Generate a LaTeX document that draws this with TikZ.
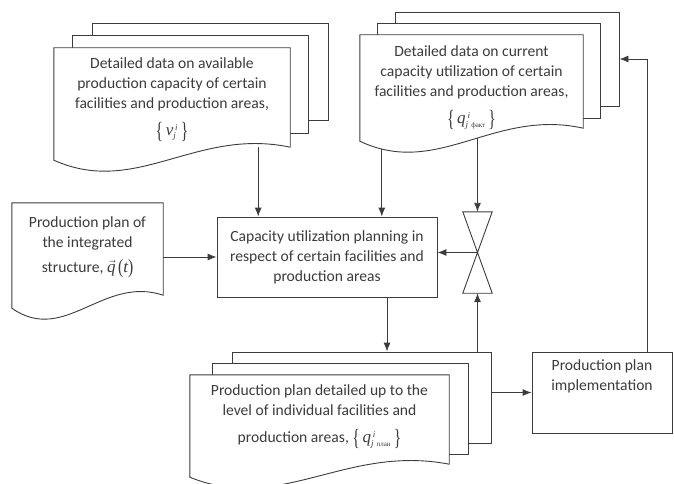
\documentclass[tikz,border=0pt]{standalone}
\usepackage{amsmath}
\usepackage{graphicx}
\usepackage{fontspec}
\setmainfont{Carlito}
\newfontfamily\cyrfont{Liberation Serif}
\usetikzlibrary{arrows.meta,positioning,backgrounds,calc}
\definecolor{ink}{HTML}{3C3C3C}
\newcommand\lbr{\raisebox{-3pt}{\scalebox{1}[1.5]{\cyrfont\{}}\,}
\newcommand\rbr{\,\raisebox{-3pt}{\scalebox{1}[1.5]{\cyrfont\}}}}
\newcommand\sym[1]{\mbox{\cyrfont\itshape\fontsize{17pt}{17pt}\selectfont #1}}
\newcommand\ssym[1]{\mbox{\cyrfont\itshape\fontsize{9pt}{9pt}\selectfont #1}}
\newcommand\tsym[1]{\mbox{\cyrfont\upshape\fontsize{7pt}{7pt}\selectfont #1}}
\tikzset{
  sheet/.style={draw=ink, fill=white, line width=0.9pt, inner sep=0pt},
  page/.style={inner sep=0pt},
  box/.style={draw=ink, fill=white, line width=0.9pt, align=center, inner sep=0pt, text=ink},
  txt/.style={align=center, inner sep=0pt, text=ink},
  link/.style={draw=ink, line width=0.9pt, ->},
}
\newcommand\docwave[1]{%
  \draw[sheet] let \p1=(#1.south east), \p2=(#1.south west), \n1={\x1-\x2} in
    (#1.north west) -- (#1.north east) -- (\p1)
    .. controls ({\x1-0.4*\n1},{\y1+20}) and ({\x2+0.35*\n1},{\y1-50}) .. ({\x2},{\y1-13}) -- cycle;}
\begin{document}
\begin{tikzpicture}[x=1pt, y=1pt, font=\fontsize{15.6pt}{20pt}\selectfont]
    \tikzset{>={Latex[length=9pt,width=7pt]}}
    \useasboundingbox (0,0) rectangle (674,-484);
    \node[sheet, minimum width=236pt, minimum height=97pt] (avail3) at (210,-71.5) {};
    \node[sheet, minimum width=236pt, minimum height=98pt] (avail2) at (190,-84) {};
    \node[page, minimum width=236pt, minimum height=99pt] (avail) at (172,-97.5) {};
    \docwave{avail}
    \node[txt] (availtext) at ([yshift=-2pt]avail.center) {Detailed data on available\\production capacity of certain\\facilities and production areas,\\[7pt]\lbr$\sym{v}^{\,\ssym{i}}_{\ssym{j}}$\rbr};
    \node[sheet, minimum width=224pt, minimum height=94pt] (actual3) at (507,-59) {};
    \node[sheet, minimum width=223pt, minimum height=95pt] (actual2) at (489,-70.5) {};
    \node[page, minimum width=223pt, minimum height=93pt] (actual) at (471.5,-81.5) {};
    \docwave{actual}
    \node[txt] (actualtext) at ([yshift=-6pt]actual.center) {Detailed data on current\\capacity utilization of certain\\facilities and production areas,\\[7pt]\lbr$\sym{q}^{\,\ssym{i}}_{\ssym{j}\;\tsym{факт}}$\rbr};
    \node[page, minimum width=151pt, minimum height=92pt] (source) at (87.5,-249) {};
    \docwave{source}
    \node[txt] (sourcetext) at ([yshift=1.5pt]source.center) {Production plan of\\the integrated\\[5pt]structure, $\vec{\sym{q}}$\,\raisebox{-1pt}{\scalebox{1}[1.3]{\cyrfont(}}\sym{t}\raisebox{-1pt}{\scalebox{1}[1.3]{\cyrfont)}}};
    \node[box, minimum width=220pt, minimum height=80pt] (planning) at (327,-257) {Capacity utilization planning in\\respect of certain facilities and\\production areas};
    \node[page, minimum width=29pt, minimum height=81pt] (valve) at (477.5,-252.5) {};
    \draw[sheet, fill=none] (valve.north west) -- (valve.north east) -- (valve.south west) -- (valve.south east) -- cycle;
    \node[sheet, minimum width=259pt, minimum height=91pt] (detail3) at (361.5,-397.5) {};
    \node[sheet, minimum width=256pt, minimum height=91pt] (detail2) at (340,-408.5) {};
    \node[page, minimum width=259pt, minimum height=89pt] (detail) at (319.5,-419.5) {};
    \docwave{detail}
    \node[txt] (detailtext) at ([yshift=3pt]detail.center) {Production plan detailed up to the\\level of individual facilities and\\[7pt]production areas, \lbr$\sym{q}^{\,\ssym{i}}_{\ssym{j}\;\tsym{план}}$\rbr};
    \node[sheet, minimum width=140pt, minimum height=81pt] (impl) at (602,-392.5) {};
    \node[txt, below=8pt of impl.north] (impltext) {Production plan\\implementation};
    \coordinate (availout) at ([xshift=-32pt]avail.south east);
    \coordinate (actualout) at ([xshift=22pt]actual.south west);
    \coordinate (planout) at ([xshift=60pt]planning.south);
    \coordinate (implout) at ([xshift=45pt]impl.north);
    \begin{scope}[on background layer]
    \draw[link] (availout) -- (availout |- planning.north);
    \draw[link] (actualout) -- (actualout |- planning.north);
    \draw[link] (valve.north |- actual.south) -- (valve.north);
    \draw[link] (source.east |- planning.west) -- (planning.west);
    \draw[link] (valve.center) -- (valve.center -| planning.east);
    \draw[link] (planout) -- (planout |- detail3.north);
    \draw[link] (valve.south |- detail3.north) -- (valve.south);
    \draw[link] (impl.west -| detail3.east) -- (impl.west);
    \draw[link] (implout) |- (actual3.east);
    \end{scope}
\end{tikzpicture}
\end{document}
